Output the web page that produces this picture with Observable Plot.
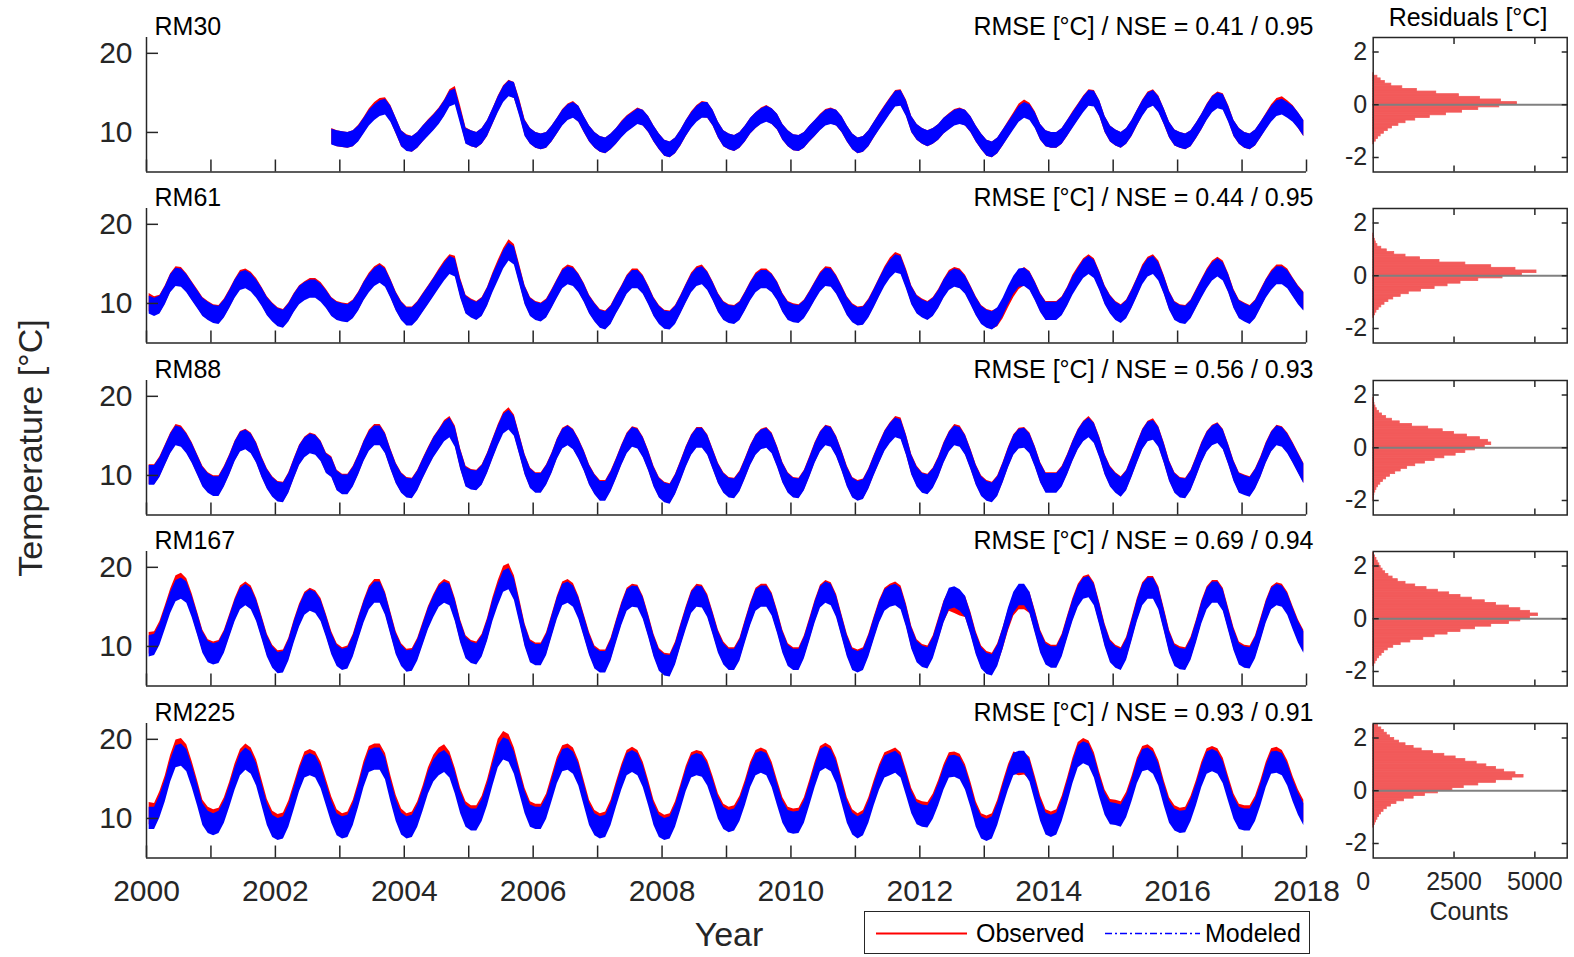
<!DOCTYPE html>
<html>
<head>
<meta charset="utf-8">
<script src="https://cdn.jsdelivr.net/npm/d3@7"></script>
<script src="https://cdn.jsdelivr.net/npm/@observablehq/plot@0.6"></script>
<style>
  body { margin: 0; background: #fff; }
  #fig { position: relative; width: 1574px; height: 957px; font-family: "Liberation Sans", Arial, sans-serif; color: #262626; }
  #fig > svg { position: absolute; overflow: visible; }
  .lab { position: absolute; white-space: nowrap; line-height: 1; }
  #legend { position: absolute; left: 864px; top: 911px; width: 446px; height: 43px; border: 1.5px solid #262626; box-sizing: border-box; background: #fff; }
</style>
</head>
<body>
<div id="fig"></div>
<script>
// Stream temperature stations, model skill and residual histograms
const stations = ["RM30", "RM61", "RM88", "RM167", "RM225"];
const rmse = [0.41, 0.44, 0.56, 0.69, 0.93];
const nse = [0.95, 0.95, 0.93, 0.94, 0.91];
// first month of record, counted from January 2000
const firstMonth = [34, 0, 0, 0, 0];
// typical within-month spread of the sub-daily record (°C)
const bandWidth = [2.0, 2.3, 2.5, 2.7, 2.8];
const yearTicks = d3.range(2000, 2019);

// Monthly modeled / observed temperature (°C), one row per year
const rm30Mod = [
  9.4, 9.2,
  9.1, 9.0, 9.2, 9.8, 10.8, 11.8, 12.5, 13.0, 13.2, 12.3, 10.8, 9.2,
  8.6, 8.5, 9.0, 9.8, 10.5, 11.2, 12.0, 13.0, 14.2, 14.5, 12.0, 9.5,
  9.2, 9.0, 9.5, 10.5, 12.0, 13.5, 14.8, 15.5, 15.3, 13.0, 10.5, 9.5,
  9.0, 8.8, 9.0, 9.8, 10.8, 11.8, 12.5, 12.8, 12.3, 11.0, 9.8, 9.0,
  8.5, 8.3, 8.8, 9.5, 10.3, 11.0, 11.5, 12.0, 11.8, 11.0, 9.8, 8.8,
  8.0, 7.8, 8.3, 9.3, 10.5, 11.5, 12.3, 12.8, 12.8, 11.8, 10.3, 9.2,
  8.8, 8.6, 9.0, 9.8, 10.8, 11.5, 12.0, 12.3, 12.0, 11.3, 10.0, 9.2,
  8.7, 8.6, 9.0, 9.8, 10.5, 11.2, 11.8, 12.0, 11.8, 11.0, 9.8, 8.8,
  8.3, 8.5, 9.2, 10.3, 11.3, 12.3, 13.3, 14.2, 14.3, 13.0, 11.0, 10.0,
  9.5, 9.2, 9.5, 10.0, 10.8, 11.3, 11.8, 12.0, 11.8, 11.0, 9.8, 8.8,
  8.0, 7.8, 8.3, 9.3, 10.3, 11.3, 12.3, 12.8, 12.5, 11.5, 10.0, 9.2,
  9.0, 9.0, 9.5, 10.5, 11.5, 12.5, 13.5, 14.3, 14.2, 13.0, 11.0, 9.8,
  9.3, 9.0, 9.5, 10.5, 11.8, 13.0, 14.0, 14.3, 13.5, 12.0, 10.3, 9.3,
  9.0, 8.8, 9.2, 10.2, 11.3, 12.5, 13.5, 14.0, 13.8, 12.3, 10.5, 9.5,
  9.0, 8.8, 9.3, 10.3, 11.3, 12.3, 13.0, 13.2, 12.8, 12.3, 11.5, 10.5
];
const rm30Obs = [
  9.5, 9.2,
  9.1, 9.0, 9.2, 9.9, 10.9, 12.0, 12.8, 13.3, 13.4, 12.4, 10.8, 9.2,
  8.7, 8.5, 9.0, 9.8, 10.6, 11.3, 12.1, 13.1, 14.4, 14.8, 12.3, 9.6,
  9.2, 9.0, 9.5, 10.5, 12.0, 13.6, 14.9, 15.6, 15.3, 13.2, 10.6, 9.5,
  9.0, 8.8, 9.0, 9.8, 10.8, 11.9, 12.6, 12.9, 12.3, 11.0, 9.8, 9.0,
  8.5, 8.3, 8.8, 9.5, 10.4, 11.1, 11.6, 12.1, 11.8, 11.0, 9.8, 8.8,
  8.0, 7.8, 8.3, 9.3, 10.5, 11.6, 12.4, 12.9, 12.8, 11.8, 10.3, 9.2,
  8.8, 8.6, 9.0, 9.8, 10.8, 11.5, 12.1, 12.4, 12.0, 11.3, 10.0, 9.2,
  8.7, 8.6, 9.0, 9.8, 10.5, 11.3, 11.9, 12.1, 11.8, 11.0, 9.8, 8.8,
  8.3, 8.5, 9.2, 10.3, 11.4, 12.4, 13.4, 14.3, 14.4, 13.1, 11.0, 10.0,
  9.5, 9.2, 9.5, 10.0, 10.8, 11.4, 11.9, 12.1, 11.8, 11.0, 9.8, 8.8,
  8.0, 7.8, 8.3, 9.3, 10.4, 11.5, 12.6, 13.1, 12.7, 11.6, 10.0, 9.2,
  9.0, 9.0, 9.5, 10.5, 11.6, 12.6, 13.6, 14.4, 14.3, 13.0, 11.0, 9.8,
  9.3, 9.0, 9.5, 10.5, 11.8, 13.1, 14.1, 14.4, 13.6, 12.0, 10.3, 9.3,
  9.0, 8.8, 9.2, 10.2, 11.3, 12.6, 13.6, 14.1, 13.9, 12.4, 10.5, 9.5,
  9.0, 8.8, 9.3, 10.3, 11.4, 12.5, 13.3, 13.5, 13.0, 12.4, 11.5, 10.5
];
const rm61Mod = [
  9.8, 9.5, 9.8, 11.0, 12.5, 13.3, 13.2, 12.5, 11.5, 10.5, 9.5, 9.0,
  8.6, 8.5, 9.3, 10.5, 11.8, 12.8, 13.0, 12.6, 11.8, 10.8, 9.6, 8.8,
  8.2, 8.0, 8.8, 10.0, 11.0, 11.5, 11.8, 11.8, 11.3, 10.5, 9.5, 9.0,
  8.8, 8.7, 9.2, 10.2, 11.5, 12.5, 13.3, 13.7, 13.2, 11.8, 10.2, 9.0,
  8.3, 8.3, 9.0, 10.0, 11.0, 12.0, 13.0, 14.0, 14.8, 14.5, 11.8, 9.8,
  9.3, 9.0, 9.5, 10.8, 12.5, 14.0, 15.5, 16.5, 16.0, 13.5, 11.0, 9.5,
  9.0, 8.8, 9.3, 10.5, 11.8, 13.0, 13.5, 13.3, 12.5, 11.3, 9.8, 8.8,
  8.0, 7.8, 8.5, 9.8, 11.0, 12.3, 13.0, 13.0, 12.3, 11.0, 9.5, 8.5,
  7.9, 7.8, 8.5, 9.8, 11.2, 12.5, 13.3, 13.5, 12.8, 11.5, 10.0, 9.0,
  8.6, 8.5, 9.0, 10.2, 11.5, 12.5, 13.0, 13.0, 12.5, 11.5, 10.0, 9.0,
  8.7, 8.6, 9.2, 10.3, 11.5, 12.6, 13.3, 13.2, 12.3, 11.0, 9.6, 8.7,
  8.3, 8.4, 9.3, 10.6, 12.0, 13.3, 14.3, 15.0, 14.8, 13.0, 11.0, 9.8,
  9.3, 9.0, 9.5, 10.5, 11.8, 12.8, 13.2, 13.0, 12.3, 11.0, 9.6, 8.5,
  8.0, 7.8, 8.3, 9.5, 11.0, 12.3, 13.2, 13.3, 12.8, 11.5, 10.0, 9.0,
  9.0, 9.0, 9.6, 10.8, 12.2, 13.3, 14.3, 14.8, 14.3, 12.8, 11.0, 9.8,
  9.0, 8.6, 9.2, 10.5, 12.0, 13.5, 14.5, 14.8, 14.0, 12.3, 10.3, 9.0,
  8.6, 8.5, 9.2, 10.5, 11.8, 13.0, 14.0, 14.5, 14.0, 12.5, 10.5, 9.2,
  8.8, 8.5, 9.2, 10.5, 11.8, 12.8, 13.5, 13.5, 13.0, 12.0, 11.0, 10.2
];
const rm61Obs = [
  10.1, 9.7, 9.9, 11.1, 12.6, 13.5, 13.4, 12.6, 11.6, 10.6, 9.6, 9.1,
  8.7, 8.6, 9.4, 10.6, 11.9, 13.0, 13.2, 12.8, 12.0, 10.9, 9.7, 8.9,
  8.3, 8.1, 8.9, 10.1, 11.1, 11.6, 12.0, 12.0, 11.5, 10.6, 9.6, 9.1,
  8.9, 8.8, 9.3, 10.3, 11.6, 12.7, 13.5, 13.9, 13.4, 11.9, 10.3, 9.1,
  8.4, 8.4, 9.1, 10.1, 11.1, 12.1, 13.2, 14.2, 15.0, 14.8, 12.0, 9.9,
  9.4, 9.1, 9.6, 10.9, 12.7, 14.3, 15.8, 16.9, 16.3, 13.7, 11.1, 9.6,
  9.1, 8.9, 9.4, 10.6, 11.9, 13.2, 13.7, 13.5, 12.6, 11.4, 9.9, 8.9,
  8.1, 7.9, 8.6, 9.9, 11.1, 12.4, 13.2, 13.2, 12.4, 11.1, 9.6, 8.6,
  8.0, 7.9, 8.6, 9.9, 11.3, 12.7, 13.5, 13.7, 12.9, 11.6, 10.1, 9.1,
  8.7, 8.6, 9.1, 10.3, 11.6, 12.7, 13.2, 13.2, 12.6, 11.6, 10.1, 9.1,
  8.8, 8.7, 9.3, 10.4, 11.6, 12.8, 13.5, 13.4, 12.4, 11.1, 9.7, 8.8,
  8.4, 8.5, 9.4, 10.7, 12.1, 13.5, 14.6, 15.3, 15.0, 13.2, 11.1, 9.9,
  9.4, 9.1, 9.6, 10.6, 11.9, 13.0, 13.4, 13.2, 12.4, 11.1, 9.7, 8.6,
  8.1, 7.9, 8.2, 9.2, 10.6, 11.9, 12.9, 13.4, 12.9, 11.6, 10.1, 9.1,
  9.1, 9.1, 9.7, 10.9, 12.4, 13.5, 14.5, 15.0, 14.5, 12.9, 11.1, 9.9,
  9.1, 8.7, 9.3, 10.6, 12.1, 13.7, 14.7, 15.0, 14.2, 12.4, 10.4, 9.1,
  8.7, 8.6, 9.3, 10.6, 11.9, 13.2, 14.2, 14.7, 14.2, 12.6, 10.6, 9.3,
  8.9, 8.6, 9.3, 10.6, 11.9, 13.0, 13.7, 13.7, 13.2, 12.1, 11.1, 10.3
];
const rm88Mod = [
  10.0, 10.0, 11.0, 12.5, 14.0, 15.0, 14.8, 14.0, 12.8, 11.3, 9.8, 9.0,
  8.6, 8.6, 9.8, 11.3, 13.0, 14.2, 14.5, 14.0, 12.8, 11.0, 9.5, 8.5,
  7.9, 7.8, 9.0, 10.8, 12.5, 13.5, 14.0, 13.8, 13.0, 11.5, 11.0, 9.3,
  8.8, 8.8, 9.8, 11.3, 13.0, 14.3, 15.0, 15.0, 14.0, 12.0, 10.2, 9.0,
  8.4, 8.3, 9.3, 10.8, 12.2, 13.5, 14.5, 15.5, 16.0, 14.8, 12.0, 9.8,
  9.4, 9.3, 10.0, 11.5, 13.3, 15.0, 16.5, 17.0, 16.2, 13.8, 11.3, 9.6,
  9.0, 9.0, 10.0, 11.5, 13.3, 14.6, 15.0, 14.5, 13.3, 11.8, 10.0, 8.8,
  8.0, 8.0, 9.2, 10.8, 12.5, 14.0, 14.8, 14.6, 13.5, 11.8, 9.8, 8.4,
  7.8, 7.6, 8.8, 10.5, 12.3, 13.8, 14.7, 14.7, 13.8, 12.0, 10.2, 9.0,
  8.4, 8.3, 9.2, 10.8, 12.5, 13.8, 14.5, 14.7, 14.0, 12.3, 10.3, 9.0,
  8.4, 8.3, 9.3, 11.0, 12.8, 14.2, 15.0, 14.8, 13.6, 11.8, 9.8, 8.4,
  8.0, 8.2, 9.5, 11.2, 12.8, 14.3, 15.3, 16.0, 15.8, 13.8, 11.3, 9.8,
  9.0, 8.8, 9.6, 11.0, 12.8, 14.2, 15.0, 14.8, 13.8, 12.0, 10.0, 8.6,
  8.0, 7.8, 8.6, 10.3, 12.2, 13.8, 14.6, 14.7, 14.0, 12.3, 10.3, 9.0,
  9.0, 9.0, 9.8, 11.3, 13.0, 14.5, 15.5, 16.0, 15.3, 13.5, 11.3, 9.8,
  9.0, 8.5, 9.3, 11.0, 12.8, 14.5, 15.5, 15.7, 14.8, 12.8, 10.5, 9.0,
  8.4, 8.3, 9.3, 11.0, 12.8, 14.2, 15.0, 15.3, 14.5, 12.6, 10.5, 9.0,
  8.7, 8.5, 9.5, 11.0, 12.8, 14.2, 15.0, 14.8, 14.0, 12.8, 11.5, 10.2
];
const rm88Obs = [
  10.1, 10.1, 11.1, 12.6, 14.1, 15.2, 15.0, 14.1, 12.9, 11.4, 9.9, 9.1,
  8.7, 8.7, 9.9, 11.4, 13.1, 14.3, 14.6, 14.1, 12.9, 11.1, 9.6, 8.6,
  8.0, 7.9, 9.1, 10.9, 12.6, 13.6, 14.1, 13.9, 13.1, 11.6, 11.1, 9.4,
  8.9, 8.9, 9.9, 11.4, 13.1, 14.5, 15.2, 15.2, 14.1, 12.1, 10.3, 9.1,
  8.5, 8.4, 9.4, 10.9, 12.3, 13.6, 14.6, 15.7, 16.2, 15.0, 12.1, 9.9,
  9.5, 9.4, 10.1, 11.6, 13.4, 15.2, 16.7, 17.3, 16.4, 13.9, 11.4, 9.7,
  9.1, 9.1, 10.1, 11.6, 13.4, 14.7, 15.1, 14.6, 13.4, 11.9, 10.1, 8.9,
  8.1, 8.1, 9.3, 10.9, 12.6, 14.1, 14.9, 14.7, 13.6, 11.9, 9.9, 8.5,
  7.9, 7.7, 8.9, 10.6, 12.4, 13.9, 14.8, 14.8, 13.9, 12.1, 10.3, 9.1,
  8.5, 8.4, 9.3, 10.9, 12.6, 13.9, 14.6, 14.8, 14.1, 12.4, 10.4, 9.1,
  8.5, 8.4, 9.4, 11.1, 12.9, 14.3, 15.1, 14.9, 13.7, 11.9, 9.9, 8.5,
  8.1, 8.3, 9.6, 11.3, 12.9, 14.4, 15.4, 16.2, 16.0, 13.9, 11.4, 9.9,
  9.1, 8.9, 9.7, 11.1, 12.9, 14.3, 15.2, 15.0, 13.9, 12.1, 10.1, 8.7,
  8.1, 7.9, 8.7, 10.4, 12.3, 13.9, 14.7, 14.8, 14.1, 12.4, 10.4, 9.1,
  9.1, 9.1, 9.9, 11.4, 13.1, 14.6, 15.6, 16.2, 15.4, 13.6, 11.4, 9.9,
  9.1, 8.6, 9.4, 11.1, 12.9, 14.6, 15.6, 15.9, 14.9, 12.9, 10.6, 9.1,
  8.5, 8.4, 9.4, 11.1, 12.9, 14.3, 15.1, 15.4, 14.6, 12.7, 10.6, 9.1,
  8.8, 8.6, 9.6, 11.1, 12.9, 14.3, 15.1, 14.9, 14.1, 12.9, 11.6, 10.3
];
const rm167Mod = [
  10.0, 10.2, 11.5, 13.5, 15.5, 17.0, 17.3, 16.8, 15.0, 12.8, 10.5, 9.3,
  9.0, 9.2, 10.5, 12.5, 14.5, 16.0, 16.5, 16.0, 14.5, 12.3, 10.0, 8.6,
  7.9, 8.0, 9.5, 11.8, 13.8, 15.3, 15.8, 15.5, 14.5, 12.5, 10.3, 8.8,
  8.3, 8.5, 10.0, 12.2, 14.3, 16.0, 16.8, 16.8, 15.3, 12.8, 10.3, 8.8,
  8.1, 8.2, 9.5, 11.5, 13.5, 15.0, 16.3, 16.8, 16.5, 14.5, 11.8, 9.8,
  9.2, 9.0, 10.0, 12.0, 14.5, 16.5, 18.2, 18.5, 17.2, 14.3, 11.3, 9.3,
  8.9, 8.9, 10.2, 12.5, 14.8, 16.5, 16.8, 16.3, 14.8, 12.5, 10.2, 8.5,
  8.0, 8.0, 9.5, 11.8, 14.0, 15.8, 16.3, 16.2, 14.8, 12.5, 10.0, 8.2,
  7.6, 7.5, 9.0, 11.3, 13.5, 15.5, 16.3, 16.2, 15.0, 12.8, 10.5, 9.0,
  8.3, 8.3, 9.5, 11.8, 14.0, 15.8, 16.3, 16.3, 15.2, 13.0, 10.5, 8.8,
  8.3, 8.3, 9.8, 12.0, 14.3, 16.2, 16.8, 16.5, 15.0, 12.5, 10.0, 8.3,
  8.0, 8.3, 10.0, 12.2, 14.3, 15.8, 16.3, 16.5, 16.0, 13.8, 11.0, 9.3,
  8.7, 8.5, 9.8, 12.0, 14.3, 16.0, 16.2, 15.8, 15.0, 12.8, 10.3, 8.5,
  7.8, 7.6, 8.8, 11.0, 13.5, 15.5, 16.5, 16.5, 15.5, 13.0, 10.5, 9.0,
  8.6, 8.6, 10.0, 12.3, 14.5, 16.3, 17.3, 17.5, 16.5, 14.0, 11.3, 9.3,
  8.6, 8.3, 9.6, 12.0, 14.5, 16.5, 17.3, 17.3, 16.0, 13.3, 10.5, 8.8,
  8.4, 8.3, 9.6, 11.8, 14.2, 16.0, 16.8, 16.8, 15.8, 13.3, 10.8, 9.0,
  8.6, 8.5, 9.8, 12.0, 14.3, 16.0, 16.5, 16.3, 15.3, 13.5, 11.8, 10.5
];
const rm167Obs = [
  10.4, 10.5, 11.8, 13.8, 15.9, 17.6, 17.9, 17.2, 15.3, 13.0, 10.7, 9.5,
  9.2, 9.4, 10.7, 12.7, 14.7, 16.3, 16.8, 16.3, 14.7, 12.5, 10.2, 8.8,
  8.1, 8.2, 9.7, 12.0, 14.0, 15.5, 16.0, 15.7, 14.7, 12.7, 10.5, 9.0,
  8.5, 8.7, 10.2, 12.4, 14.5, 16.3, 17.1, 17.1, 15.5, 13.0, 10.5, 9.0,
  8.3, 8.4, 9.7, 11.7, 13.7, 15.2, 16.5, 17.1, 16.8, 14.7, 12.0, 10.0,
  9.4, 9.2, 10.2, 12.2, 14.8, 17.0, 18.8, 19.1, 17.6, 14.6, 11.5, 9.5,
  9.1, 9.1, 10.4, 12.7, 15.0, 16.8, 17.1, 16.6, 15.0, 12.7, 10.4, 8.7,
  8.2, 8.2, 9.7, 12.0, 14.2, 16.0, 16.5, 16.4, 15.0, 12.7, 10.2, 8.4,
  7.8, 7.7, 9.2, 11.5, 13.7, 15.7, 16.5, 16.4, 15.2, 13.0, 10.7, 9.2,
  8.5, 8.5, 9.7, 12.0, 14.2, 16.0, 16.5, 16.5, 15.4, 13.2, 10.7, 9.0,
  8.5, 8.5, 10.0, 12.2, 14.5, 16.4, 17.0, 16.7, 15.2, 12.7, 10.2, 8.5,
  8.2, 8.5, 10.2, 12.4, 14.5, 16.0, 16.5, 16.8, 16.3, 14.0, 11.2, 9.5,
  8.9, 8.7, 10.0, 12.2, 14.4, 15.8, 15.5, 15.2, 15.0, 13.0, 10.5, 8.7,
  8.0, 7.8, 9.0, 11.0, 13.3, 15.2, 16.0, 16.0, 15.5, 13.2, 10.7, 9.2,
  8.8, 8.8, 10.2, 12.5, 14.7, 16.5, 17.5, 17.7, 16.7, 14.2, 11.5, 9.5,
  8.8, 8.5, 9.8, 12.2, 14.7, 16.7, 17.5, 17.5, 16.2, 13.5, 10.7, 9.0,
  8.6, 8.5, 9.8, 12.0, 14.4, 16.2, 17.0, 17.0, 16.0, 13.5, 11.0, 9.2,
  8.8, 8.7, 10.0, 12.2, 14.5, 16.2, 16.7, 16.5, 15.5, 13.7, 12.0, 10.7
];
const rm225Mod = [
  10.0, 10.0, 11.5, 13.5, 16.0, 17.8, 18.0, 17.3, 15.3, 13.0, 10.5, 9.5,
  9.2, 9.5, 10.8, 12.8, 15.0, 16.8, 17.5, 17.0, 15.5, 13.0, 10.5, 9.0,
  8.6, 8.8, 10.3, 12.5, 14.8, 16.5, 16.8, 16.5, 15.2, 13.0, 10.8, 9.2,
  8.8, 9.0, 10.5, 12.8, 15.3, 17.2, 17.5, 17.5, 16.3, 13.5, 11.0, 9.3,
  8.8, 9.0, 10.3, 12.3, 14.5, 16.0, 16.8, 17.2, 16.5, 14.5, 12.0, 10.3,
  9.8, 9.8, 11.0, 13.0, 15.5, 17.8, 18.8, 18.5, 17.0, 14.5, 12.0, 10.3,
  10.0, 10.0, 11.3, 13.5, 15.8, 17.3, 17.5, 17.0, 15.5, 13.0, 10.5, 9.2,
  8.8, 9.0, 10.5, 12.8, 15.0, 16.8, 17.2, 16.8, 15.3, 13.0, 10.5, 9.0,
  8.6, 8.8, 10.3, 12.5, 14.8, 16.5, 16.8, 16.6, 15.5, 13.5, 11.3, 10.0,
  9.6, 9.8, 11.0, 13.0, 15.3, 16.8, 17.1, 16.8, 15.3, 13.0, 10.8, 9.6,
  9.4, 9.5, 10.8, 13.0, 15.3, 17.3, 17.7, 17.3, 15.8, 13.3, 10.8, 9.3,
  8.8, 9.2, 10.8, 13.0, 15.0, 16.5, 16.8, 17.1, 16.5, 14.3, 12.0, 10.6,
  10.3, 10.2, 11.3, 13.0, 15.0, 16.5, 16.6, 16.3, 15.0, 12.8, 10.3, 8.8,
  8.5, 8.8, 10.5, 12.8, 15.0, 16.8, 17.1, 17.1, 16.0, 13.5, 11.0, 9.3,
  9.0, 9.3, 11.0, 13.3, 15.8, 17.8, 18.3, 18.0, 16.5, 14.0, 11.8, 10.6,
  10.5, 10.3, 11.5, 13.5, 15.8, 17.3, 17.5, 17.0, 15.5, 13.0, 10.8, 9.8,
  9.5, 9.6, 11.0, 13.0, 15.3, 17.0, 17.3, 17.0, 15.8, 13.5, 11.3, 10.0,
  9.8, 9.8, 11.0, 13.0, 15.3, 17.0, 17.1, 16.8, 15.5, 13.5, 11.8, 10.5
];
const rm225Obs = [
  10.6, 10.5, 12.0, 14.0, 16.6, 18.5, 18.7, 17.9, 15.8, 13.4, 10.9, 10.0,
  9.7, 9.9, 11.2, 13.2, 15.5, 17.3, 18.0, 17.5, 16.0, 13.5, 11.0, 9.5,
  9.1, 9.3, 10.8, 13.0, 15.2, 17.0, 17.3, 17.0, 15.7, 13.5, 11.3, 9.7,
  9.2, 9.4, 10.9, 13.2, 15.8, 17.7, 18.0, 18.0, 16.8, 14.0, 11.5, 9.8,
  9.2, 9.4, 10.7, 12.7, 15.0, 16.6, 17.5, 17.9, 17.0, 14.9, 12.4, 10.7,
  10.2, 10.2, 11.4, 13.5, 16.1, 18.6, 19.6, 19.2, 17.5, 14.9, 12.4, 10.7,
  10.4, 10.4, 11.7, 14.0, 16.3, 17.8, 18.0, 17.5, 15.9, 13.4, 10.9, 9.6,
  9.2, 9.4, 10.9, 13.2, 15.4, 17.2, 17.6, 17.2, 15.7, 13.4, 10.9, 9.4,
  9.0, 9.2, 10.7, 12.9, 15.2, 16.9, 17.2, 17.0, 15.9, 13.9, 11.7, 10.4,
  10.0, 10.2, 11.4, 13.4, 15.7, 17.2, 17.5, 17.2, 15.7, 13.4, 11.2, 10.0,
  9.8, 9.9, 11.2, 13.4, 15.7, 17.7, 18.1, 17.7, 16.2, 13.7, 11.2, 9.7,
  9.2, 9.6, 11.2, 13.4, 15.4, 16.9, 17.2, 17.5, 16.9, 14.7, 12.4, 11.0,
  10.7, 10.6, 11.7, 13.4, 15.4, 16.9, 17.0, 16.7, 15.4, 13.2, 10.7, 9.2,
  8.9, 9.2, 10.9, 13.2, 15.4, 17.0, 16.8, 16.9, 16.3, 13.9, 11.4, 9.7,
  9.4, 9.7, 11.4, 13.7, 16.2, 18.2, 18.7, 18.4, 16.9, 14.4, 12.2, 11.0,
  10.9, 10.7, 11.9, 13.9, 16.2, 17.7, 17.9, 17.4, 15.9, 13.4, 11.2, 10.2,
  9.9, 10.0, 11.4, 13.4, 15.7, 17.4, 17.7, 17.4, 16.2, 13.9, 11.7, 10.4,
  10.2, 10.2, 11.4, 13.4, 15.7, 17.4, 17.6, 17.2, 15.9, 13.9, 12.2, 10.9
];

// Residual (observed − modeled) histograms: 0.1 °C bins from −2.5 to 2.5
const residualBinStart = d3.range(50).map(i => -2.5 + i * 0.1);
const rm30Res = [
  0, 0, 0, 0, 0, 0, 0, 0, 0, 0,
  30, 80, 150, 230, 330, 450, 580, 780, 1000, 1300, 1750, 2250, 2750, 3250, 3900,
  4450, 3950, 3300, 2650, 1950, 1350, 900, 560, 360, 230, 130, 20,
  0, 0, 0, 0, 0, 0, 0, 0, 0, 0, 0, 0, 0
];
const rm61Res = [
  0, 0, 0, 0, 0, 0, 0, 0, 0,
  20, 60, 100, 170, 250, 350, 470, 620, 850, 1100, 1480, 1900, 2300, 2700, 3250, 4000,
  4600, 5050, 4400, 3650, 2850, 2050, 1450, 1000, 650, 420, 250,
  130, 80, 50, 30, 10,
  0, 0, 0, 0, 0, 0, 0, 0, 0
];
const rm88Res = [
  0, 0, 0, 0, 0, 5,
  15, 35, 65, 100, 150, 220, 300, 400, 520, 680, 850, 1050, 1300, 1600, 1900, 2200, 2550, 2850, 3150,
  3450, 3650, 3550, 3300, 2900, 2500, 2150, 1700, 1200, 820, 580, 400, 270, 180, 110, 70, 40, 20, 10,
  0, 0, 0, 0, 0, 0
];
const rm167Res = [
  0, 0, 0, 0, 0, 0, 0, 30,
  70, 120, 180, 260, 340, 450, 620, 850, 1150, 1550, 1900, 2300, 2700, 3150, 3650, 4200, 4550,
  4850, 5100, 4850, 4550, 4200, 3800, 3450, 3050, 2700, 2350, 2000, 1650, 1300, 1000, 760,
  600, 470, 370, 290, 230, 190, 140, 100, 60, 20
];
const rm225Res = [
  0, 0, 0, 0, 0, 0, 0, 0, 0, 0, 0, 20,
  50, 90, 130, 180, 240, 320, 420, 550, 720, 950, 1250, 1600, 2000,
  2450, 2800, 3250, 3800, 4300, 4650, 4400, 4050, 3800, 3500, 3200, 2850, 2550, 2200, 1850,
  1500, 1250, 1000, 800, 650, 520, 420, 330, 250, 150
];

const modeled = [rm30Mod, rm61Mod, rm88Mod, rm167Mod, rm225Mod];
const observed = [rm30Obs, rm61Obs, rm88Obs, rm167Obs, rm225Obs];
const residuals = [rm30Res, rm61Res, rm88Res, rm167Res, rm225Res];

const INK = "#262626";
const HIST = "#f25a5a";
const FONT = "'Liberation Sans', Arial, sans-serif";
const ROW = 171.4;        // vertical step between station rows
const fig = document.getElementById("fig");

function place(svg, left, top) {
  svg.style.left = left + "px";
  svg.style.top = top + "px";
  fig.appendChild(svg);
}

stations.forEach((name, i) => {
  const last = i === stations.length - 1;
  const half = bandWidth[i] / 2;
  const rows = modeled[i].map((m, k) => ({
    t: 2000 + (firstMonth[i] + k + 0.5) / 12,
    mod: m,
    obs: observed[i][k]
  }));

  // time series panel
  const series = Plot.plot({
    width: 1345,
    height: last ? 217 : 172,
    marginTop: 37,
    marginBottom: last ? 45.5 : 0.5,
    marginLeft: 146,
    marginRight: 39,
    style: {background: "transparent", overflow: "visible", fontFamily: FONT, color: INK},
    x: {domain: [2000, 2018]},
    y: {domain: [5, 22]},
    marks: [
      Plot.areaY(rows, {x: "t", y1: d => d.obs - half, y2: d => d.obs + half, fill: "#ff0000"}),
      Plot.areaY(rows, {x: "t", y1: d => d.mod - half, y2: d => d.mod + half, fill: "#0000ff"}),
      Plot.ruleX([2000], {stroke: INK, strokeWidth: 1.5}),
      Plot.ruleY([5], {stroke: INK, strokeWidth: 1.5}),
      Plot.axisY({ticks: [10, 20], tickSize: -12, tickPadding: 26, fontSize: 30, color: INK,
                  strokeWidth: 1.5, label: null, tickFormat: d => String(d)}),
      Plot.axisX({ticks: yearTicks, tickSize: -12, tickPadding: 34, fontSize: 30, color: INK,
                  strokeWidth: 1.5, label: null,
                  tickFormat: last ? (d => d % 2 === 0 ? String(d) : "") : () => ""}),
      Plot.text([name], {frameAnchor: "top-left", text: d => d, dx: 8, dy: -11,
                         lineAnchor: "middle", textAnchor: "start", fontSize: 25, fill: "#000"}),
      Plot.text([`RMSE [°C] / NSE = ${rmse[i].toFixed(2)} / ${nse[i].toFixed(2)}`],
                {frameAnchor: "top-right", text: d => d, dx: 7, dy: -11,
                 lineAnchor: "middle", textAnchor: "end", fontSize: 25, fill: "#000"})
    ]
  });
  place(series, 0, i * ROW);

  // residual histogram panel
  const bins = residualBinStart.map((y0, k) => ({y1: y0, y2: y0 + 0.1, count: residuals[i][k]}));
  const hist = Plot.plot({
    width: 244,
    height: last ? 217 : 172,
    marginTop: 37,
    marginBottom: last ? 45.5 : 0.5,
    marginLeft: 42.7,
    marginRight: 7.3,
    style: {background: "transparent", overflow: "visible", fontFamily: FONT, color: INK},
    x: {domain: [0, 6000]},
    y: {domain: [-2.55, 2.55]},
    marks: [
      Plot.rectX(bins.filter(b => b.count > 0),
                 {x: "count", y1: "y1", y2: "y2", fill: HIST, stroke: HIST, strokeWidth: 0.8}),
      Plot.ruleY([0], {stroke: "#808080", strokeWidth: 2}),
      Plot.frame({stroke: INK, strokeWidth: 1.5}),
      Plot.axisY({ticks: [-2, 0, 2], tickSize: -6, tickPadding: 12, fontSize: 25, color: INK,
                  strokeWidth: 1.5, label: null, tickFormat: d => String(d)}),
      Plot.axisY({anchor: "right", ticks: [-2, 0, 2], tickSize: -6, color: INK, strokeWidth: 1.5,
                  label: null, tickFormat: () => ""}),
      Plot.axisX({anchor: "top", ticks: [2500, 5000], tickSize: -6, color: INK, strokeWidth: 1.5,
                  label: null, tickFormat: () => ""}),
      Plot.axisX({anchor: "bottom", ticks: [2500, 5000], tickSize: -6, tickPadding: 20, fontSize: 25,
                  color: INK, strokeWidth: 1.5, label: null,
                  tickFormat: last ? (d => String(d)) : () => ""}),
      ...(last ? [Plot.axisX({anchor: "bottom", ticks: [0], tickSize: 0, tickPadding: 14, dx: -10,
                              fontSize: 25, color: INK, label: null, tickFormat: d => String(d)})] : [])
    ]
  });
  place(hist, 1330, i * ROW);
});

// shared axis titles and legend
function label(text, css) {
  const el = document.createElement("div");
  el.className = "lab";
  el.textContent = text;
  Object.assign(el.style, css);
  fig.appendChild(el);
  return el;
}
label("Temperature [°C]", {left: "30px", top: "448px", fontSize: "34px",
  transform: "translate(-50%, -50%) rotate(-90deg)"});
label("Year", {left: "729px", top: "934px", fontSize: "34px", transform: "translate(-50%, -50%)"});
label("Residuals [°C]", {left: "1468px", top: "17px", fontSize: "25px", color: "#000", transform: "translate(-50%, -50%)"});
label("Counts", {left: "1469px", top: "911px", fontSize: "25px", transform: "translate(-50%, -50%)"});

const legend = document.createElement("div");
legend.id = "legend";
legend.innerHTML = `
  <svg width="446" height="43" style="position:absolute;left:0;top:0">
    <line x1="11" x2="102" y1="21.5" y2="21.5" stroke="#ff0000" stroke-width="2"/>
    <line x1="240" x2="335" y1="21.5" y2="21.5" stroke="#0000ff" stroke-width="1.5" stroke-dasharray="7,3,2,3"/>
  </svg>
  <span class="lab" style="left:111px;top:21px;font-size:25px;color:#000;transform:translateY(-50%)">Observed</span>
  <span class="lab" style="left:340px;top:21px;font-size:25px;color:#000;transform:translateY(-50%)">Modeled</span>`;
fig.appendChild(legend);
</script>
</body>
</html>
